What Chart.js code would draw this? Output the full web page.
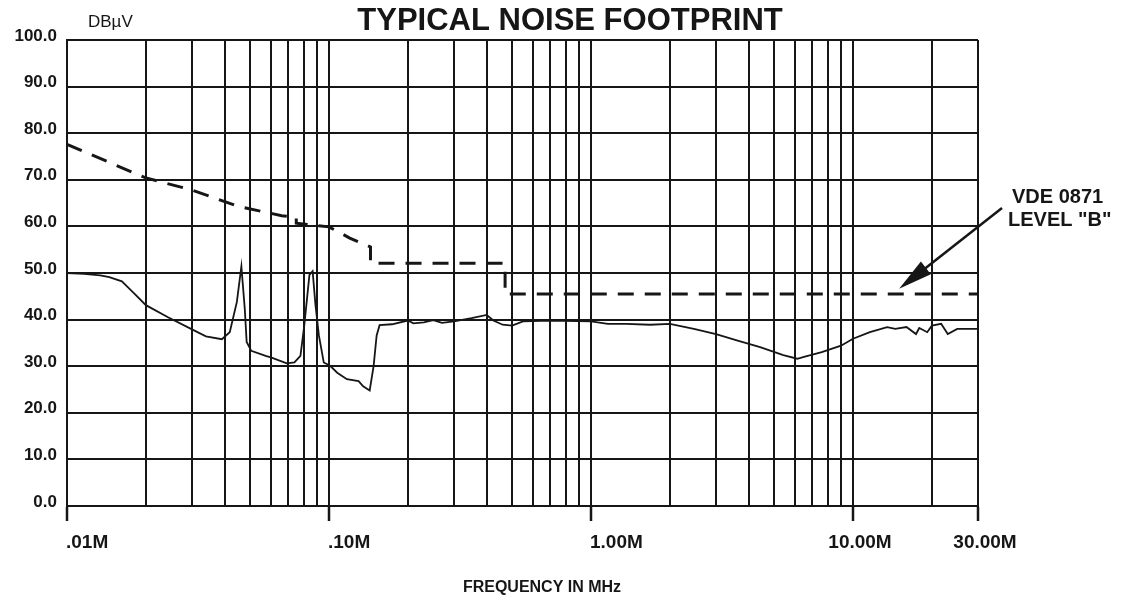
<!DOCTYPE html>
<html>
<head>
<meta charset="utf-8">
<script src="https://cdn.jsdelivr.net/npm/chart.js@4.4.1/dist/chart.umd.min.js"></script>
<style>
  html, body { margin: 0; padding: 0; background: #fff; }
  #wrap { width: 1144px; height: 599px; }
</style>
</head>
<body>
<div id="wrap"><canvas id="noiseChart"></canvas></div>
<script>
const ctx = document.getElementById('noiseChart').getContext('2d');

// measured noise (MHz, dBuV)
const noiseFreq = [
  0.01, 0.0116, 0.0134, 0.0145, 0.0162, 0.018, 0.02, 0.0243, 0.03, 0.0339,
  0.039, 0.0418, 0.0445, 0.0463, 0.0477, 0.0485, 0.0505, 0.0573, 0.06, 0.069,
  0.0738, 0.0778, 0.0805, 0.0842, 0.0866, 0.0888, 0.0915, 0.0955, 0.101, 0.1075,
  0.117, 0.1297, 0.135, 0.143, 0.148, 0.152, 0.156, 0.174, 0.2, 0.21,
  0.23, 0.25, 0.27, 0.3, 0.35, 0.4, 0.424, 0.46, 0.5, 0.55,
  0.7, 1.0, 1.16, 1.36, 1.68, 2.0, 2.47, 3.0, 3.63, 4.42,
  5.42, 6.13, 6.5, 7.6, 9.0, 10, 11.6, 13.5, 14.5, 16.0,
  17.4, 17.9, 19.2, 20, 21.7, 23.0, 25, 30
];
const noiseLevel = [
  50.0, 49.8, 49.5, 49.1, 48.2, 45.7, 43.1, 40.5, 37.9, 36.4,
  35.8, 37.3, 43.8, 51.4, 42.3, 35.2, 33.3, 32.2, 31.9, 30.6,
  30.8, 32.2, 38.8, 49.6, 50.4, 43.1, 36.6, 30.8, 30.1, 28.6,
  27.2, 26.8, 25.7, 24.8, 30.0, 36.6, 38.8, 39.0, 39.8, 39.2,
  39.4, 39.9, 39.3, 39.6, 40.3, 41.0, 39.8, 38.9, 38.7, 39.6,
  39.8, 39.6, 39.1, 39.1, 38.9, 39.1, 38.0, 36.9, 35.5, 34.1,
  32.4, 31.6, 32.0, 33.0, 34.4, 35.9, 37.3, 38.4, 38.0, 38.4,
  36.9, 38.2, 37.3, 38.7, 39.1, 36.9, 38.0, 38.0
];

// VDE 0871 level "B" limit
const limitFreq  = [0.01, 0.02, 0.03, 0.045, 0.066, 0.075, 0.075, 0.1, 0.12, 0.144, 0.144, 0.47, 0.47, 30];
const limitLevel = [77.6, 70.4, 67.8, 64.3, 62.3, 62.0, 60.7, 59.9, 57.5, 55.6, 52.1, 52.1, 45.5, 45.5];

// grid / ticks
const xGridTicks = [
  0.01, 0.02, 0.03, 0.04, 0.05, 0.06, 0.07, 0.08, 0.09,
  0.1, 0.2, 0.3, 0.4, 0.5, 0.6, 0.7, 0.8, 0.9,
  1, 2, 3, 4, 5, 6, 7, 8, 9,
  10, 20, 30
];
const xLabelFreqs = [0.01, 0.1, 1, 10, 30];
const xLabelTexts = ['.01M', '.10M', '1.00M', '10.00M', '30.00M'];

const ink = '#161616';
const face = "'Liberation Sans', Arial, Helvetica, sans-serif";

const extraText = {
  id: 'extraText',
  afterDraw(chart) {
    const c = chart.ctx;
    const xs = chart.scales.x;
    const ys = chart.scales.y;
    const area = chart.chartArea;
    c.save();
    c.fillStyle = ink;
    c.strokeStyle = ink;
    c.textBaseline = 'middle';

    // title
    c.font = 'bold 31px ' + face;
    c.textAlign = 'center';
    c.fillText('TYPICAL NOISE FOOTPRINT', 570, 21);

    // unit label
    c.font = '17px ' + face;
    c.textAlign = 'left';
    c.fillText('DBµV', 88, 22);

    // frequency labels
    c.font = 'bold 19px ' + face;
    xLabelFreqs.forEach((f, i) => {
      const px = xs.getPixelForValue(f);
      if (i < 3) {
        c.textAlign = 'left';
        c.fillText(xLabelTexts[i], px - 1, 543);
      } else {
        c.textAlign = 'center';
        c.fillText(xLabelTexts[i], px + 7, 543);
      }
    });

    // axis title
    c.font = 'bold 16px ' + face;
    c.textAlign = 'center';
    c.fillText('FREQUENCY IN MHz', 542, 588);

    // VDE note + arrow
    c.font = 'bold 20px ' + face;
    c.textAlign = 'left';
    c.fillText('VDE 0871', area.right + 34, 197);
    c.fillText('LEVEL "B"', area.right + 30, 220);

    const tipX = xs.getPixelForValue(15);
    const tipY = ys.getPixelForValue(46.6);
    const tailX = area.right + 24;
    const tailY = 208;
    const ang = Math.atan2(tipY - tailY, tipX - tailX);
    c.lineWidth = 2.5;
    c.beginPath();
    c.moveTo(tailX, tailY);
    c.lineTo(tipX - Math.cos(ang) * 20, tipY - Math.sin(ang) * 20);
    c.stroke();
    const headLen = 34, headHalf = 8;
    const bx = tipX - Math.cos(ang) * headLen;
    const by = tipY - Math.sin(ang) * headLen;
    c.beginPath();
    c.moveTo(tipX, tipY);
    c.lineTo(bx + Math.sin(ang) * headHalf, by - Math.cos(ang) * headHalf);
    c.lineTo(bx - Math.sin(ang) * headHalf, by + Math.cos(ang) * headHalf);
    c.closePath();
    c.fill();
    c.restore();
  }
};

const data = {
  datasets: [
    {
      label: 'VDE 0871 level B',
      data: limitFreq.map((f, i) => ({ x: f, y: limitLevel[i] })),
      borderColor: ink,
      borderWidth: 3,
      borderDash: [16, 11],
      pointRadius: 0,
      tension: 0
    },
    {
      label: 'Noise',
      data: noiseFreq.map((f, i) => ({ x: f, y: noiseLevel[i] })),
      borderColor: ink,
      borderWidth: 1.8,
      pointRadius: 0,
      tension: 0
    }
  ]
};

const config = {
  type: 'line',
  data: data,
  options: {
    responsive: true,
    maintainAspectRatio: false,
    animation: false,
    layout: { padding: { left: 0, right: 166, top: 40, bottom: 0 } },
    plugins: {
      legend: { display: false },
      tooltip: { enabled: false },
      title: { display: false }
    },
    scales: {
      x: {
        type: 'logarithmic',
        min: 0.01,
        max: 30,
        afterBuildTicks: (scale) => {
          scale.ticks = xGridTicks.map(v => ({ value: v }));
        },
        afterFit: (scale) => { scale.height = 93; },
        ticks: { display: false },
        grid: {
          color: ink,
          lineWidth: 2,
          drawTicks: true,
          tickLength: 15,
          tickWidth: 2.5,
          tickColor: (c) => xLabelFreqs.includes(c.tick && c.tick.value) ? ink : 'rgba(0,0,0,0)'
        },
        border: { display: true, color: ink, width: 2 },
        title: { display: false }
      },
      y: {
        min: 0,
        max: 100,
        afterFit: (scale) => { scale.width = 67; },
        ticks: {
          stepSize: 10,
          padding: 10,
          labelOffset: -4,
          color: ink,
          font: { family: face, size: 17, weight: 'bold' },
          callback: (v) => v.toFixed(1)
        },
        grid: { color: ink, lineWidth: 2, drawTicks: false },
        border: { display: true, color: ink, width: 2 }
      }
    }
  },
  plugins: [extraText]
};

const noiseChart = new Chart(ctx, config);
</script>
</body>
</html>
